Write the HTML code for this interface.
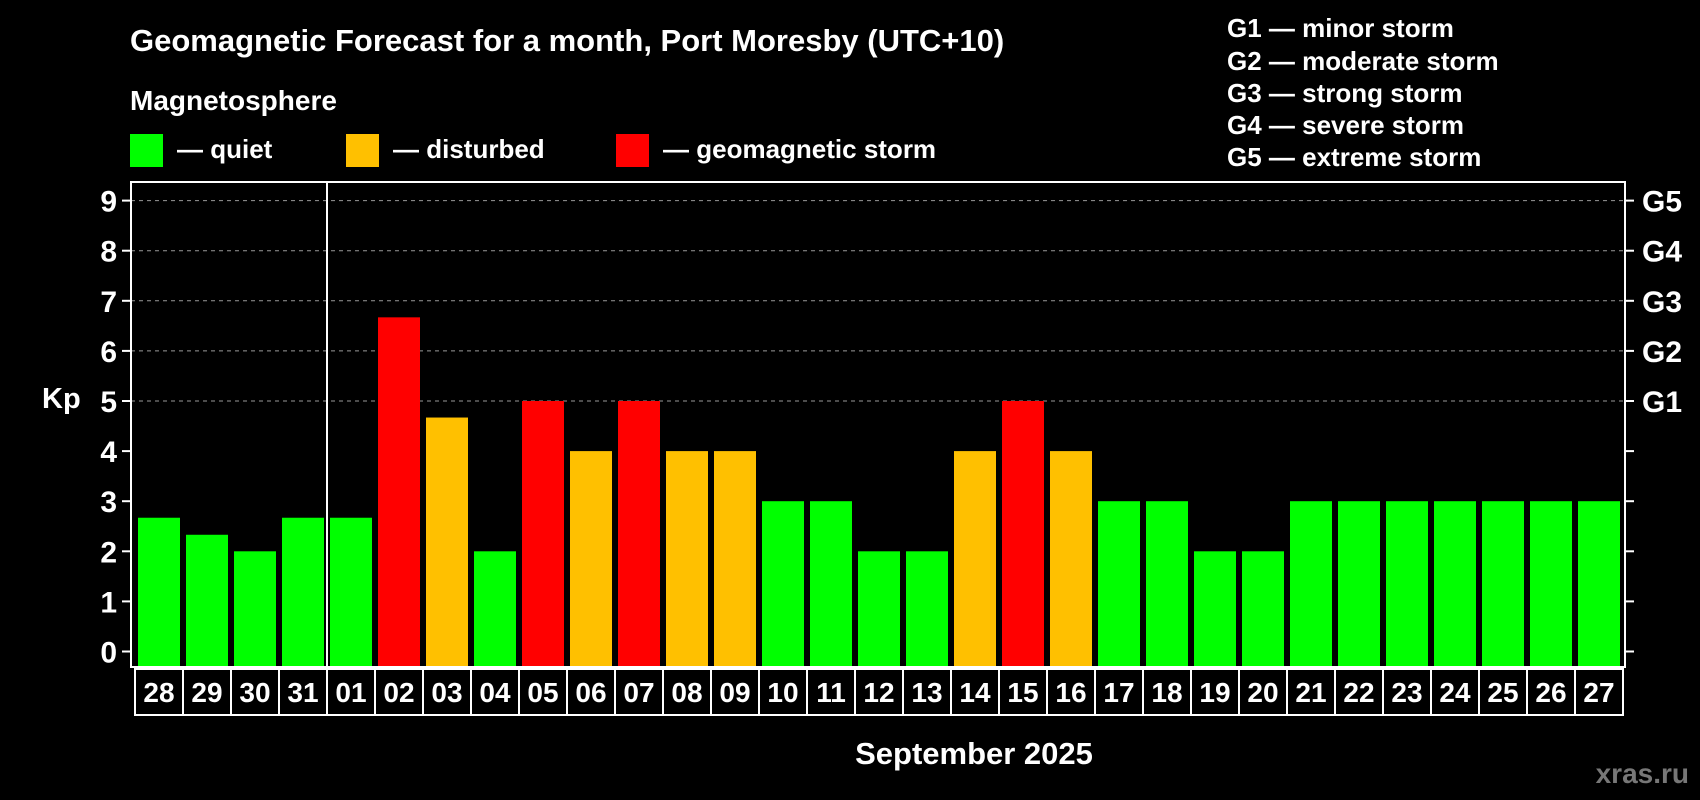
<!DOCTYPE html>
<html><head><meta charset="utf-8"><style>
html,body{margin:0;padding:0;background:#000;}
svg{display:block;font-family:"Liberation Sans",Arial,sans-serif;font-weight:bold;}
</style></head><body>
<svg id="chart" width="1700" height="800" viewBox="0 0 1700 800">
<rect width="1700" height="800" fill="#000"/>
<text x="130" y="51" fill="#fff" font-size="31">Geomagnetic Forecast for a month, Port Moresby (UTC+10)</text>
<text x="130" y="110" fill="#fff" font-size="28">Magnetosphere</text>
<g><rect x="130" y="134" width="33" height="33" fill="#00ff00"/><text x="177" y="158" fill="#fff" font-size="26">— quiet</text></g>
<g><rect x="346" y="134" width="33" height="33" fill="#ffc000"/><text x="393" y="158" fill="#fff" font-size="26">— disturbed</text></g>
<g><rect x="616" y="134" width="33" height="33" fill="#ff0000"/><text x="663" y="158" fill="#fff" font-size="26">— geomagnetic storm</text></g>
<g fill="#fff" font-size="26">
<text x="1227" y="37">G1 — minor storm</text>
<text x="1227" y="70">G2 — moderate storm</text>
<text x="1227" y="102">G3 — strong storm</text>
<text x="1227" y="134">G4 — severe storm</text>
<text x="1227" y="166">G5 — extreme storm</text>
</g>
<text x="42" y="408" fill="#fff" font-size="29">Kp</text>
<text x="974" y="764" fill="#fff" font-size="31" text-anchor="middle">September 2025</text>
<text x="1689" y="783" fill="#777" font-size="28" text-anchor="end">xras.ru</text>
<g id="plot"></g>
</svg>
<script>
const days = ["28","29","30","31","01","02","03","04","05","06","07","08","09","10","11","12","13","14","15","16","17","18","19","20","21","22","23","24","25","26","27"];
const kp = [2.67,2.33,2,2.67,2.67,6.67,4.67,2,5,4,5,4,4,3,3,2,2,4,5,4,3,3,2,2,3,3,3,3,3,3,3];
const yTicks = [0,1,2,3,4,5,6,7,8,9];
const gLabels = ["G1","G2","G3","G4","G5"];
const monthStartIndex = 4;

const NS="http://www.w3.org/2000/svg";
const plot=document.getElementById('plot');
const L=131,R=1625,T=182,B=667,X0=138,PITCH=48,BW=42;
const y=v=>651.5-v*50.1;
const x=i=>X0+i*PITCH;
function mk(tag,attrs){const e=document.createElementNS(NS,tag);for(const k in attrs)e.setAttribute(k,attrs[k]);plot.appendChild(e);return e;}
yTicks.forEach(t=>{
  if(t>=5){const g=mk('line',{x1:L,x2:R,y1:y(t),y2:y(t),stroke:'#999','stroke-dasharray':'4,4','stroke-width':1});
  
  }
  const tk=mk('line',{x1:L-9,x2:L,y1:y(t),y2:y(t),stroke:'#fff','stroke-width':2});
  
  
  const tr=mk('line',{x1:R,x2:R+9,y1:y(t),y2:y(t),stroke:'#fff','stroke-width':2});
  
  
  const lb=mk('text',{x:L-14,y:y(t)+11,fill:'#fff','font-size':30,'text-anchor':'end'});
  lb.textContent=t;
  
  
});
gLabels.forEach((g,i)=>{
  const lb=mk('text',{x:R+17,y:y(5+i)+11,fill:'#fff','font-size':30});
  lb.textContent=g;
  
  
});
kp.forEach((v,i)=>{
  const c=v>=5?'#ff0000':(v>=4?'#ffc000':'#00ff00');
  const b=mk('rect',{x:x(i),y:y(v),width:BW,height:B-y(v),fill:c});
  
  
});
const fr=mk('rect',{x:L,y:T,width:R-L,height:B-T,fill:'none',stroke:'#fff','stroke-width':2});


const sep=mk('line',{x1:x(monthStartIndex)-3,x2:x(monthStartIndex)-3,y1:T,y2:B,stroke:'#fff','stroke-width':2});


days.forEach((d,i)=>{
  const bx=mk('rect',{x:x(i)-3,y:B+2,width:PITCH,height:46,fill:'none',stroke:'#fff','stroke-width':2});
  
  
  const t=mk('text',{x:x(i)+BW/2,y:B+35,fill:'#fff','font-size':28,'text-anchor':'middle'});
  t.textContent=d;
  
  
});
</script>
</body></html>
